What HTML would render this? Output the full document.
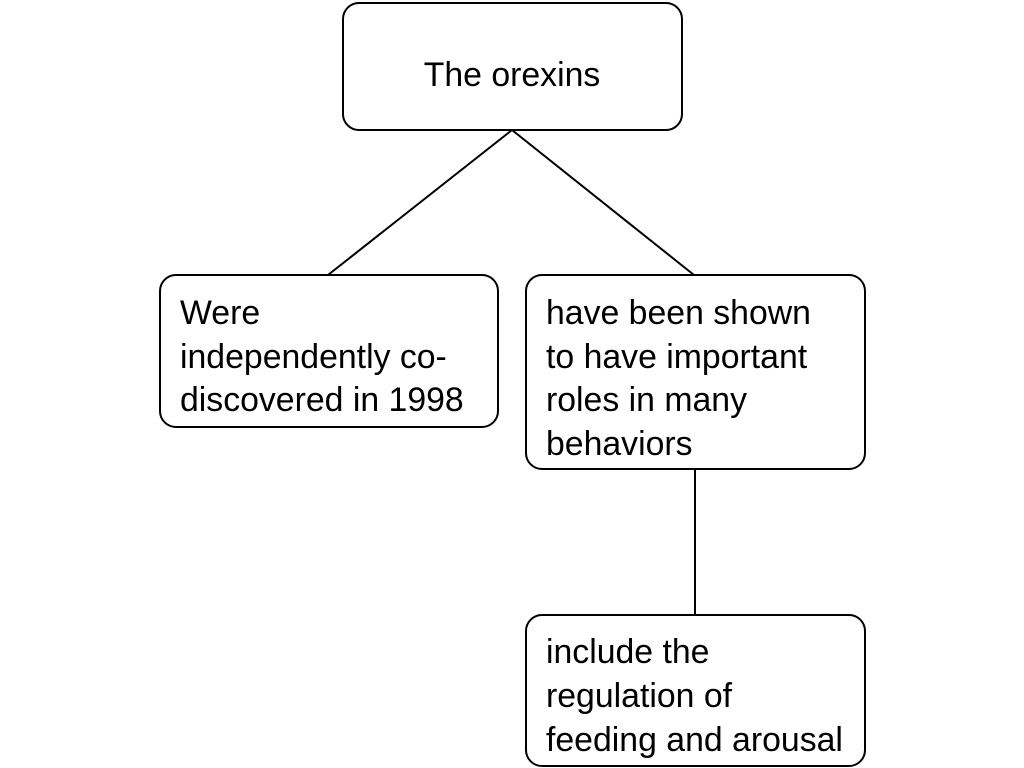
<!DOCTYPE html>
<html><head><meta charset="utf-8"><style>html,body{margin:0;padding:0;background:#fff;}svg{display:block}</style></head>
<body>
<svg width="1024" height="768" viewBox="0 0 1024 768" xmlns="http://www.w3.org/2000/svg" font-family="Liberation Sans, Arial, sans-serif" font-size="33.8" fill="#000">
<g stroke="#000" stroke-width="2" fill="none">
<line x1="512" y1="130" x2="328" y2="275"/>
<line x1="512" y1="130" x2="694" y2="275"/>
<line x1="695" y1="469" x2="695" y2="615"/>
<rect x="343" y="3" width="339" height="127" rx="16"/>
<rect x="160" y="275" width="338" height="152" rx="16"/>
<rect x="526" y="275" width="339" height="194" rx="16"/>
<rect x="526" y="615" width="339" height="151" rx="16"/>
</g>
<text x="512" y="86" text-anchor="middle">The orexins</text>
<text x="180" y="324">Were</text>
<text x="180" y="368">independently co-</text>
<text x="180" y="411">discovered in 1998</text>
<text x="546" y="324">have been shown</text>
<text x="546" y="368">to have important</text>
<text x="546" y="411">roles in many</text>
<text x="546" y="455">behaviors</text>
<text x="546" y="663">include the</text>
<text x="546" y="707">regulation of</text>
<text x="546" y="751">feeding and arousal</text>
</svg>
</body></html>
